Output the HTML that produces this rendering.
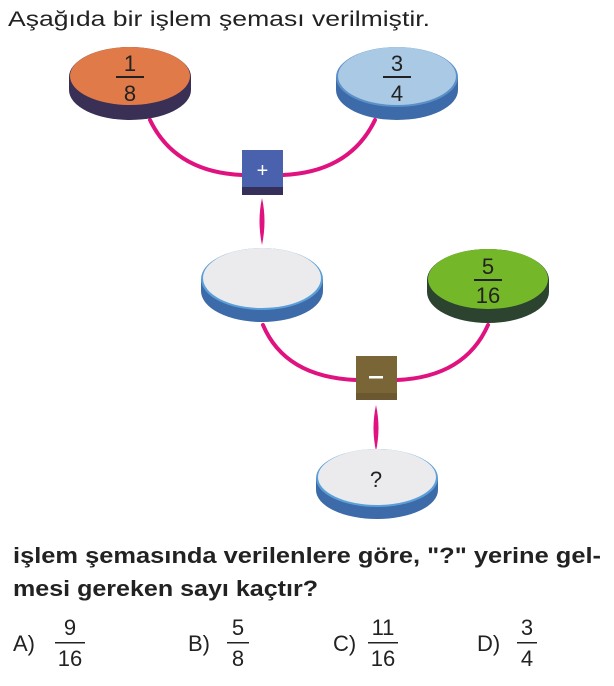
<!DOCTYPE html>
<html><head><meta charset="utf-8"><style>
html,body{margin:0;padding:0;background:#fff;width:614px;height:686px;overflow:hidden}
svg{display:block}
text{font-family:"Liberation Sans",Arial,sans-serif}
</style></head><body>
<svg width="614" height="686" viewBox="0 0 614 686" xmlns="http://www.w3.org/2000/svg">
<text x="8" y="26" font-size="21" fill="#222" textLength="422" lengthAdjust="spacingAndGlyphs">Aşağıda bir işlem şeması verilmiştir.</text>

<g fill="none" stroke="#e0127f" stroke-linecap="round">
<path d="M150 120 Q175 172 242 175" stroke-width="4"/>
<path d="M283 175 Q350 172 375 120" stroke-width="4"/>
<path d="M263 325 Q285 377 356 380" stroke-width="4"/>
<path d="M397 380 Q465 377 488 325" stroke-width="4"/>
</g>
<path d="M262 198 Q267 221 262 245 Q257 221 262 198Z" fill="#e0127f"/>
<path d="M376 405 Q381 428 376 451 Q371 428 376 405Z" fill="#e0127f"/>

<ellipse cx="130" cy="90" rx="61" ry="30" fill="#3a2f55"/>
<rect x="69" y="77" width="122" height="13" fill="#3a2f55"/>
<ellipse cx="130" cy="77" rx="61" ry="30" fill="#3a2f55"/>
<ellipse cx="130" cy="76" rx="60" ry="29" fill="#e07a48"/>
<text x="130" y="71" font-size="22" text-anchor="middle" fill="#222">1</text>
<rect x="116" y="76" width="28" height="2" fill="#222"/>
<text x="130" y="101" font-size="22" text-anchor="middle" fill="#222">8</text>

<ellipse cx="397" cy="90" rx="61" ry="30" fill="#3d6aa8"/>
<rect x="336" y="77" width="122" height="13" fill="#3d6aa8"/>
<ellipse cx="397" cy="77" rx="61" ry="30" fill="#5b8fc8"/>
<ellipse cx="397" cy="76" rx="59" ry="29" fill="#a9c9e4"/>
<text x="397" y="71" font-size="22" text-anchor="middle" fill="#222">3</text>
<rect x="383" y="76" width="28" height="2" fill="#222"/>
<text x="397" y="101" font-size="22" text-anchor="middle" fill="#222">4</text>

<rect x="242" y="150" width="41" height="45" fill="#4a62ad"/>
<rect x="242" y="187" width="41" height="8" fill="#35305a"/>
<text x="262.5" y="177" font-size="20" text-anchor="middle" fill="#fff">+</text>

<ellipse cx="262" cy="291" rx="61" ry="31" fill="#3d6aa8"/>
<rect x="201" y="279" width="122" height="12" fill="#3d6aa8"/>
<ellipse cx="262" cy="279" rx="61" ry="31" fill="#5b9fd8"/>
<ellipse cx="262" cy="278" rx="59" ry="30" fill="#ebebed"/>

<ellipse cx="488" cy="292" rx="61" ry="31" fill="#2c4330"/>
<rect x="427" y="280" width="122" height="12" fill="#2c4330"/>
<ellipse cx="488" cy="280" rx="61" ry="31" fill="#2c4330"/>
<ellipse cx="488" cy="279" rx="60" ry="30" fill="#74b82a"/>
<text x="488" y="274" font-size="22" text-anchor="middle" fill="#222">5</text>
<rect x="474" y="279" width="28" height="2" fill="#222"/>
<text x="488" y="303" font-size="22" text-anchor="middle" fill="#222">16</text>

<rect x="356" y="356" width="41" height="44" fill="#7a6536"/>
<rect x="356" y="393" width="41" height="7" fill="#6b5830"/>
<rect x="369" y="376" width="14" height="2.5" fill="#fff"/>

<ellipse cx="377" cy="490" rx="61" ry="29" fill="#3d6aa8"/>
<rect x="316" y="478" width="122" height="12" fill="#3d6aa8"/>
<ellipse cx="377" cy="478" rx="61" ry="29" fill="#5b9fd8"/>
<ellipse cx="377" cy="477" rx="59" ry="28" fill="#ebebed"/>
<text x="376" y="487" font-size="22" text-anchor="middle" fill="#222">?</text>

<text x="13" y="563" font-size="22" font-weight="bold" fill="#222" textLength="588" lengthAdjust="spacingAndGlyphs">işlem şemasında verilenlere göre, "?" yerine gel-</text>
<text x="13" y="596" font-size="22" font-weight="bold" fill="#222" textLength="305" lengthAdjust="spacingAndGlyphs">mesi gereken sayı kaçtır?</text>

<g font-size="22" fill="#222">
<text x="13" y="651">A)</text>
<text x="70" y="635" text-anchor="middle">9</text>
<rect x="55" y="642" width="30" height="1.5" fill="#222"/>
<text x="70" y="666" text-anchor="middle">16</text>

<text x="188" y="651">B)</text>
<text x="238" y="635" text-anchor="middle">5</text>
<rect x="227" y="642" width="22" height="1.5" fill="#222"/>
<text x="238" y="666" text-anchor="middle">8</text>

<text x="333" y="651">C)</text>
<text x="383" y="635" text-anchor="middle">11</text>
<rect x="368" y="642" width="30" height="1.5" fill="#222"/>
<text x="383" y="666" text-anchor="middle">16</text>

<text x="477" y="651">D)</text>
<text x="527" y="635" text-anchor="middle">3</text>
<rect x="517" y="642" width="20" height="1.5" fill="#222"/>
<text x="527" y="666" text-anchor="middle">4</text>
</g>
</svg>
</body></html>
